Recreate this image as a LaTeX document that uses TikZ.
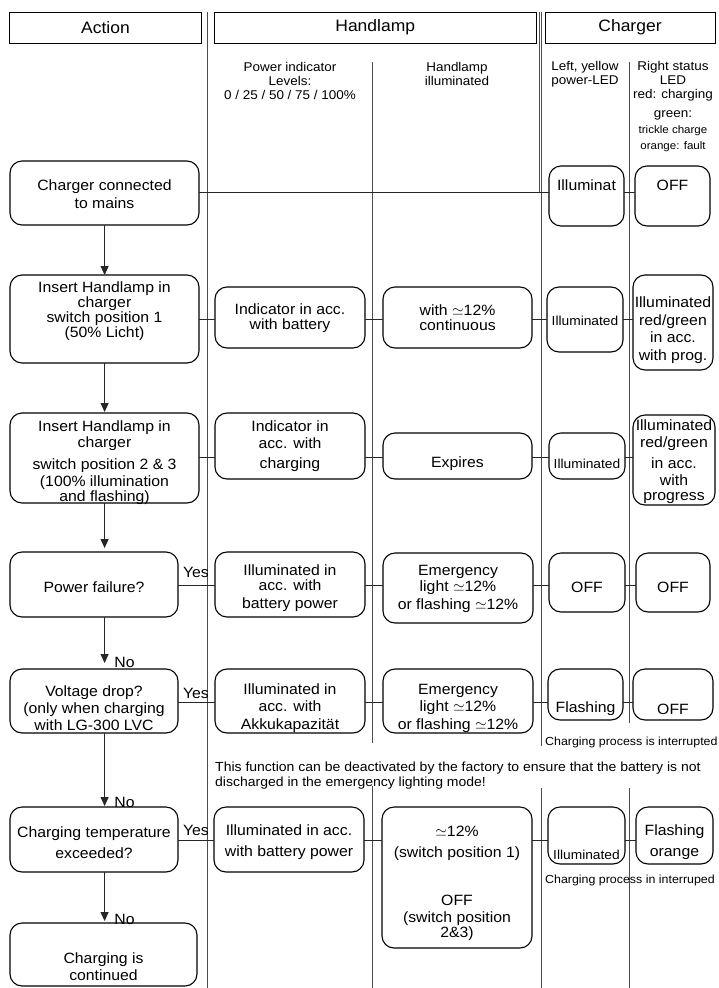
\documentclass[tikz,border=0pt]{standalone}
\usepackage{fix-cm}
\usepackage{fontspec}
\setmainfont{Liberation Sans}[FakeStretch=1.06]
\usetikzlibrary{arrows.meta}

% rounded box from its corner coordinates: [style]{name}{x1}{y1}{x2}{y2}
\newcommand\flowbox[6][box]{%
  \node[#1, minimum width={(#5-#3)*1pt}, minimum height={(#6-#4)*1pt}]
    (#2) at ({(#3+#5)/2},{(#4+#6)/2}) {};}

\tikzset{
  box/.style={draw=black, line width=1.1pt, rounded corners=12pt, fill=white,
              inner sep=0pt, outer sep=0pt},
  hbox/.style={draw=black, line width=1pt, inner sep=0pt, outer sep=0pt,
               font=\fontsize{16.5}{18}\selectfont},
  sep/.style={draw=black!70, line width=1pt},
  conn/.style={draw=black!85, line width=1pt},
  arr/.style={conn, -{Triangle[length=9pt,width=8pt]}},
  txt/.style={align=center, inner sep=0pt, font=\fontsize{14.9}{15}\selectfont},
  ledtxt/.style={align=center, inner sep=0pt, font=\fontsize{13}{15}\selectfont},
  colhead/.style={align=center, inner sep=0pt, font=\fontsize{12.7}{14}\selectfont},
  remark/.style={anchor=west, inner sep=0pt, font=\fontsize{11.7}{13}\selectfont},
  footnote/.style={anchor=west, align=left, inner sep=0pt, font=\fontsize{13.2}{15.5}\selectfont}
}

\begin{document}
\begin{tikzpicture}[x=1pt,y=-1pt]
\fill[white] (0,0) rectangle (718,988);
\useasboundingbox (0,0) rectangle (718,988);

% column separators
\draw[sep] (207.3,12) -- (207.3,988);
\draw[sep] (541.5,12) -- (541.5,746);
\draw[sep] (541.5,788) -- (541.5,988);
\draw[sep] (539.3,12) -- (539.3,192);
\draw[sep] (372.5,62) -- (372.5,743);
\draw[sep] (372.5,786) -- (372.5,988);
\draw[sep] (629,62) -- (629,723);
\draw[sep] (629,788) -- (629,988);

% headers
\node[hbox, minimum width=192pt, minimum height=31pt] (hA) at (105.5,27.5) {Action};
\node[hbox, minimum width=322.5pt, minimum height=31pt] (hH) at (375.25,27.5) {Handlamp};
\node[hbox, minimum width=170pt, minimum height=31pt] (hC) at (630,27.5) {Charger};

\node[colhead] (cP) at (290,81) {Power indicator\\Levels:\\0 / 25 / 50 / 75 / 100\%};
\node[colhead] (cH) at (457,74) {Handlamp\\illuminated};
\node[colhead] (cL) at (585,74) {Left, yellow\\power-LED};
\node[colhead] (cR) at (673,106.5) {Right status\\LED\\red: charging\\[5pt]green:\\[2pt]%
  {\fontsize{10.9}{14}\selectfont trickle charge}\\[2pt]{\fontsize{10.9}{14}\selectfont orange: fault}};

% row heights of the horizontal connectors
\coordinate (r1) at (0,192);
\coordinate (r2) at (0,319);
\coordinate (r3) at (0,457);
\coordinate (r4) at (0,585);
\coordinate (r5) at (0,702);
\coordinate (r6) at (0,840);
\coordinate (ax) at (104.6,0);

% row 1
\flowbox{a1}{10}{161}{199}{225}
\flowbox{ll1}{549}{166}{624}{226}
\flowbox{rl1}{635}{166}{710}{226}
% row 2
\flowbox{a2}{10}{275}{199}{363}
\flowbox{p2}{215}{287}{365}{348}
\flowbox{h2}{383}{287}{532}{348}
\flowbox{ll2}{547}{287}{623}{352}
\flowbox{rl2}{633}{275}{713}{370}
% row 3
\flowbox{a3}{10}{413}{199}{503}
\flowbox{p3}{215}{413}{365}{479}
\flowbox{h3}{383}{433}{532}{479}
\flowbox{ll3}{549}{433}{625}{479}
\flowbox{rl3}{633}{415}{715}{505}
% row 4
\flowbox{a4}{10}{552}{178}{617}
\flowbox{p4}{215}{552}{365}{617}
\flowbox{h4}{383}{553}{533}{623}
\flowbox{ll4}{549}{553}{625}{612}
\flowbox{rl4}{636}{553}{710}{612}
% row 5
\flowbox{a5}{10}{669}{178}{733}
\flowbox{p5}{215}{669}{365}{733}
\flowbox{h5}{383}{669}{533}{733}
\flowbox{ll5}{548}{669}{623}{720}
\flowbox{rl5}{633}{669}{713}{720}
% row 6
\flowbox{a6}{10}{807}{178}{872}
\flowbox{p6}{214}{807}{364}{872}
\flowbox{h6}{382}{807}{532}{948}
\flowbox{ll6}{548}{807}{625}{864}
\flowbox{rl6}{636}{807}{713}{864}
% row 7
\flowbox{a7}{10}{923}{197}{986}

% horizontal connectors
\foreach \u/\v/\r in {a1/ll1/r1, ll1/rl1/r1,
    a2/p2/r2, p2/h2/r2, h2/ll2/r2, ll2/rl2/r2,
    a3/p3/r3, p3/h3/r3, h3/ll3/r3, ll3/rl3/r3,
    a4/p4/r4, p4/h4/r4, h4/ll4/r4, ll4/rl4/r4,
    a5/p5/r5, p5/h5/r5, h5/ll5/r5, ll5/rl5/r5,
    a6/p6/r6, p6/h6/r6, h6/ll6/r6, ll6/rl6/r6}
  \draw[conn] (\u.east |- \r) -- (\v.west |- \r);

% action flow
\draw[arr] (a1.south -| ax) -- (a2.north -| ax);
\draw[arr, shorten >=1pt] (a2.south -| ax) -- (a3.north -| ax);
\draw[arr, shorten >=4pt] (a3.south -| ax) -- (a4.north -| ax);
\draw[arr, shorten >=6pt] (a4.south -| ax) -- (a5.north -| ax);
\draw[arr, shorten >=1pt] (a5.south -| ax) -- (a6.north -| ax);
\draw[arr, shorten >=2pt] (a6.south -| ax) -- (a7.north -| ax);

\node[txt] (no5) at (124.5,662) {No};
\node[txt] (no6) at (124.5,802) {No};
\node[txt] (no7) at (124.5,919) {No};
\node[txt] (yes4) at (196,572) {Yes};
\node[txt] (yes5) at (196,693) {Yes};
\node[txt] (yes6) at (196,830) {Yes};

% box texts
\node[txt] (a1t) at (104.5,194.5) {Charger connected\\[3pt]to mains};
\node[txt] (ll1t) at (586.5,185) {Illuminat};
\node[txt] (rl1t) at (672.5,185) {OFF};

\node[txt] (a2t) at (104.5,311) {Insert Handlamp in\\charger\\switch position 1\\(50\% Licht)};
\node[txt] (p2t) at (290,318) {Indicator in acc.\\with battery};
\node[txt] (h2t) at (457.5,318) {with $\simeq$12\%\\continuous};
\node[ledtxt] (ll2t) at (585,321) {Illuminated};
\node[txt] (rl2t) at (673,330) {Illuminated\\[2.5pt]red/green\\[2.5pt]in acc.\\[2.5pt]with prog.};

\node[txt] (a3t) at (104.5,463) {Insert Handlamp in\\[1pt]charger\\[7pt]switch position 2 \& 3\\[2pt](100\% illumination\\and flashing)};
\node[txt] (p3t) at (290,446) {Indicator in\\[2pt]acc. with\\[5pt]charging};
\node[txt] (h3t) at (457.5,464) {Expires};
\node[ledtxt] (ll3t) at (587,464) {Illuminated};
\node[txt] (rl3t) at (674,462) {Illuminated\\[2pt]red/green\\[6pt]in acc.\\[2pt]with\\progress};

\node[txt] (a4t) at (94,587) {Power failure?};
\node[txt] (p4t) at (290,588.5) {Illuminated in\\acc. with\\[3pt]battery power};
\node[txt] (h4t) at (458,589) {Emergency\\[1.5pt]light $\simeq$12\%\\[3pt]or flashing $\simeq$12\%};
\node[txt] (ll4t) at (587,587) {OFF};
\node[txt] (rl4t) at (673,587) {OFF};

\node[txt] (a5t) at (94,708) {Voltage drop?\\[2pt](only when charging\\[2pt]with LG-300 LVC};
\node[txt] (p5t) at (290,708.5) {Illuminated in\\[2pt]acc. with\\[3pt]Akkukapazität};
\node[txt] (h5t) at (458,708.5) {Emergency\\[2pt]light $\simeq$12\%\\[3pt]or flashing $\simeq$12\%};
\node[txt] (ll5t) at (585.5,709) {Flashing};
\node[txt] (rl5t) at (673,709) {OFF};
\node[remark] (int5) at (545,742) {Charging process is interrupted};

\node[footnote] (fn) at (215,775.5) {This function can be deactivated by the factory to ensure that the battery is not\\discharged in the emergency lighting mode!};

\node[txt] (a6t) at (94,842.5) {Charging temperature\\[6pt]exceeded?};
\node[txt] (p6t) at (289,842.5) {Illuminated in acc.\\[6pt]with battery power};
\node[txt] (h6t) at (457,883.5) {$\simeq$12\%\\[6pt](switch position 1)\\[33pt]OFF\\[2pt](switch position\\2\&3)};
\node[ledtxt] (ll6t) at (586.5,855) {Illuminated};
\node[txt] (rl6t) at (674.5,842.5) {Flashing\\[6pt]orange};
\node[remark] (int6) at (545,880) {Charging process in interruped};

\node[txt] (a7t) at (103.5,966.5) {Charging is\\[2pt]continued};
\end{tikzpicture}
\end{document}
